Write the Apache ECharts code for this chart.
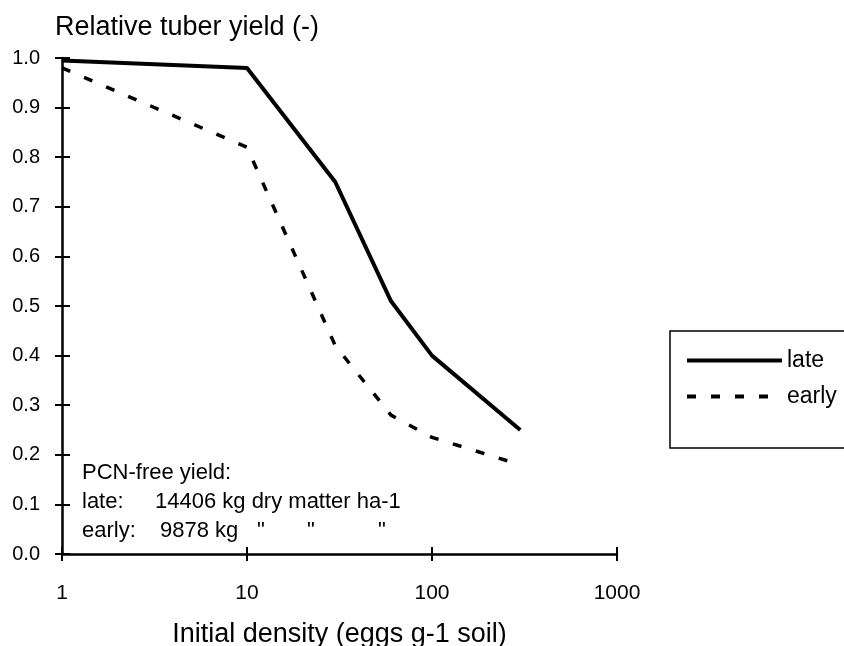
<!DOCTYPE html>
<html>
<head>
<meta charset="utf-8">
<script src="https://cdn.jsdelivr.net/npm/echarts@6/dist/echarts.min.js"></script>
<style>html,body{margin:0;padding:0;background:#fff}#c{width:844px;height:646px}</style>
</head>
<body>
<div id="c"></div>
<script>
const density = [1, 10, 30, 60, 100, 300];
const lateYield = [0.995, 0.98, 0.75, 0.51, 0.40, 0.25];
const earlyYield = [0.98, 0.82, 0.42, 0.28, 0.235, 0.18];
const seriesNames = ['late', 'early'];
const yAxisTitle = 'Relative tuber yield (-)';
const xAxisTitle = 'Initial density (eggs g-1 soil)';
const noteLines = [
  ['PCN-free yield:'],
  ['late:', '14406 kg dry matter ha-1'],
  ['early:', '9878 kg', '"', '"', '"']
];

const FONT = '"Liberation Sans", Arial, sans-serif';
const chart = echarts.init(document.getElementById('c'));
const grid = {left: 62, top: 58, right: 227, bottom: 92, outerBoundsMode: 'none', containLabel: false};
const axisLine = {lineStyle: {color: '#000', width: 2.5}};

const noteY = [474, 503, 532];
const noteX = [[82], [82, 155], [82, 160, 257, 307, 378]];
const graphics = [];
noteLines.forEach((line, i) => {
  line.forEach((t, j) => {
    graphics.push({
      type: 'text', left: noteX[i][j], top: noteY[i] - 12,
      style: {text: t, fill: '#000', font: '22px ' + FONT}
    });
  });
});

chart.setOption({
  backgroundColor: '#fff',
  animation: false,
  textStyle: {fontFamily: FONT, color: '#000'},
  grid: grid,
  legend: {
    orient: 'vertical',
    left: 670, top: 331,
    padding: [18, 60, 40, 15],
    itemWidth: 95, itemHeight: 26, itemGap: 13,
    borderColor: '#000', borderWidth: 1.5,
    itemStyle: {color: 'rgba(0,0,0,0)', borderWidth: 0, opacity: 0},
    lineStyle: {width: 4},
    textStyle: {fontSize: 23, color: '#000', fontFamily: FONT},
    data: seriesNames
  },
  xAxis: [{
    type: 'log', logBase: 10, min: 1, max: 1000,
    name: xAxisTitle, nameLocation: 'middle', nameGap: 67,
    nameTextStyle: {fontSize: 27, color: '#000', fontFamily: FONT},
    axisLine: axisLine,
    axisTick: {show: true, length: 7, lineStyle: {color: '#000', width: 2}},
    axisLabel: {fontSize: 21, color: '#000', margin: 29, fontFamily: FONT, formatter: v => String(v)},
    splitLine: {show: false}, minorTick: {show: false}
  }, {
    type: 'log', logBase: 10, min: 1, max: 1000, position: 'bottom',
    axisLine: {show: false},
    axisTick: {show: true, inside: true, length: 7, lineStyle: {color: '#000', width: 2}},
    axisLabel: {show: false}, splitLine: {show: false}
  }],
  yAxis: [{
    type: 'value', min: 0, max: 1, interval: 0.1,
    name: yAxisTitle, nameLocation: 'end', nameGap: 30,
    nameTextStyle: {fontSize: 27, color: '#000', align: 'left', verticalAlign: 'middle', padding: [0, 0, 0, -7], fontFamily: FONT},
    axisLine: Object.assign({show: true}, axisLine),
    axisTick: {show: true, length: 7, lineStyle: {color: '#000', width: 2}},
    axisLabel: {fontSize: 20, color: '#000', margin: 22, fontFamily: FONT, formatter: v => v.toFixed(1)},
    splitLine: {show: false}
  }, {
    type: 'value', min: 0, max: 1, interval: 0.1, position: 'left',
    axisLine: {show: false},
    axisTick: {show: true, inside: true, length: 8, lineStyle: {color: '#000', width: 2}},
    axisLabel: {show: false}, splitLine: {show: false}
  }],
  series: [{
    name: seriesNames[0], type: 'line', symbol: 'none',
    data: density.map((d, i) => [d, lateYield[i]]),
    lineStyle: {color: '#000', width: 4},
    itemStyle: {color: '#000'}
  }, {
    name: seriesNames[1], type: 'line', symbol: 'none',
    data: density.map((d, i) => [d, earlyYield[i]]),
    lineStyle: {color: '#000', width: 3.5, type: [9, 15]},
    itemStyle: {color: '#000'}
  }],
  graphic: graphics
});
</script>
</body>
</html>
